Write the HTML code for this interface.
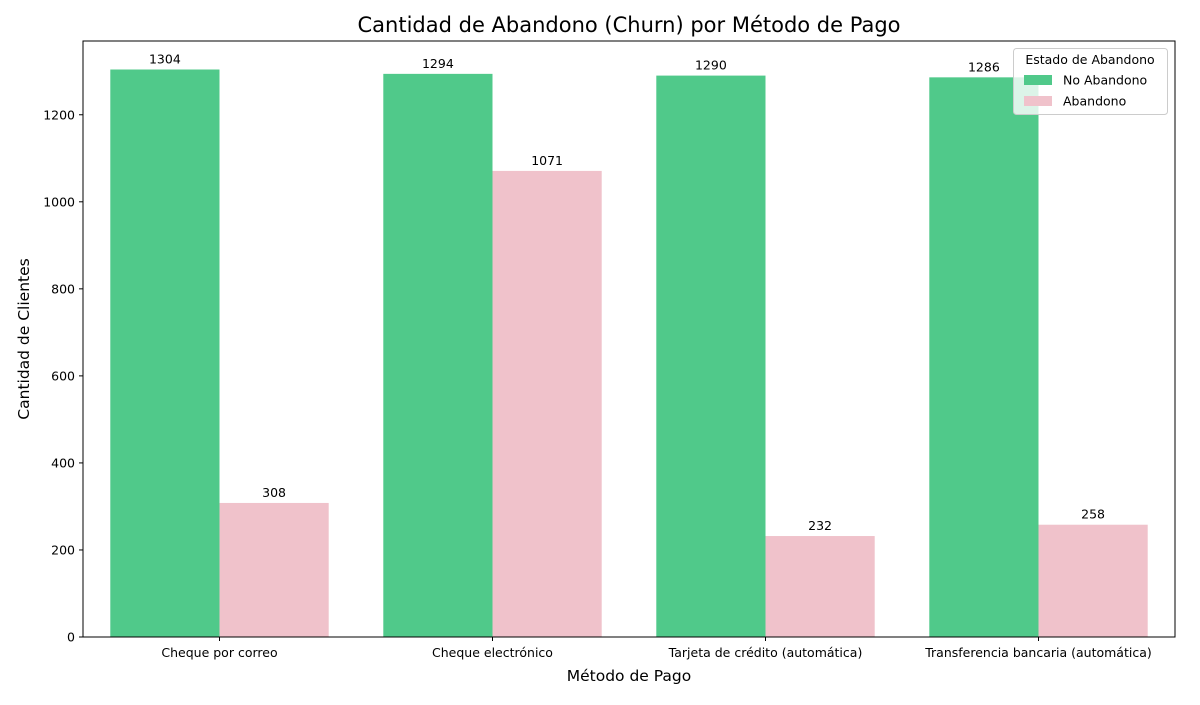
<!DOCTYPE html>
<html><head><meta charset="utf-8"><style>
body{margin:0;background:#fff;}
svg text{font-family:"DejaVu Sans","Liberation Sans",sans-serif;fill:#000;}
</style></head><body>
<svg id="c" width="1200" height="700" xmlns="http://www.w3.org/2000/svg"></svg>
<script>
const categories=["Cheque por correo","Cheque electrónico","Tarjeta de crédito (automática)","Transferencia bancaria (automática)"];
const noChurn=[1304,1294,1290,1286];
const churn=[308,1071,232,258];
const yTicks=[0,200,400,600,800,1000,1200];
const seriesNames=["No Abandono","Abandono"];
const colors=["#50c98a","#f0c2cb"];

const svg=document.getElementById('c');
const NS="http://www.w3.org/2000/svg";
const L=83,R=1175,T=41,B=637;
const yMax=1369.5;
function y(v){return B-(v/yMax)*(B-T);}
const bw=(R-L)/categories.length;
function xc(i){return L+bw*(i+0.5);}
function el(tag,attrs,parent){const e=document.createElementNS(NS,tag);for(const k in attrs)e.setAttribute(k,attrs[k]);(parent||svg).appendChild(e);return e;}

const title=el('text',{x:629,y:32,'text-anchor':'middle','font-size':21});
title.textContent="Cantidad de Abandono (Churn) por Método de Pago";



const bars=el('g',{});


[noChurn,churn].forEach((ser,s)=>{
  ser.forEach((v,i)=>{
    const x0=xc(i)-bw*0.4+s*bw*0.4;
    const r=el('rect',{x:x0,y:y(v),width:bw*0.4,height:B-y(v),fill:colors[s]},bars);
    
    
    const t=el('text',{x:x0+bw*0.2,y:y(v)-6,'text-anchor':'middle','font-size':12.5},bars);
    t.textContent=v;
    
    
  });
});

const frame=el('rect',{x:L,y:T,width:R-L,height:B-T,fill:'none',stroke:'#000','stroke-width':1});



yTicks.forEach(v=>{
  el('line',{x1:L-4,x2:L,y1:y(v),y2:y(v),stroke:'#000'});
  const t=el('text',{x:L-8,y:y(v)+4.5,'text-anchor':'end','font-size':12.5});
  t.textContent=v;
  
  
});
categories.forEach((c,i)=>{
  el('line',{x1:xc(i),x2:xc(i),y1:B,y2:B+4,stroke:'#000'});
  const t=el('text',{x:xc(i),y:B+20,'text-anchor':'middle','font-size':12.5});
  t.textContent=c;
  
  
});

const xl=el('text',{x:629,y:681,'text-anchor':'middle','font-size':15.5});
xl.textContent="Método de Pago";


const yl=el('text',{x:0,y:0,'text-anchor':'middle','font-size':15.5,transform:'translate(29,339) rotate(-90)'});
yl.textContent="Cantidad de Clientes";



const lg=el('g',{});


el('rect',{x:1013.5,y:48.5,width:154,height:66,rx:3,fill:'#fff','fill-opacity':0.8,stroke:'#ccc'},lg);
const lt=el('text',{x:1090,y:64,'text-anchor':'middle','font-size':12.5},lg);
lt.textContent="Estado de Abandono";


seriesNames.forEach((n,s)=>{
  const yy=80+s*21;
  el('rect',{x:1024,y:yy-5,width:28,height:10,fill:colors[s]},lg);
  const t=el('text',{x:1063,y:yy+4.5,'font-size':12.5},lg);
  t.textContent=n;
  
  
});
</script>
</body></html>
